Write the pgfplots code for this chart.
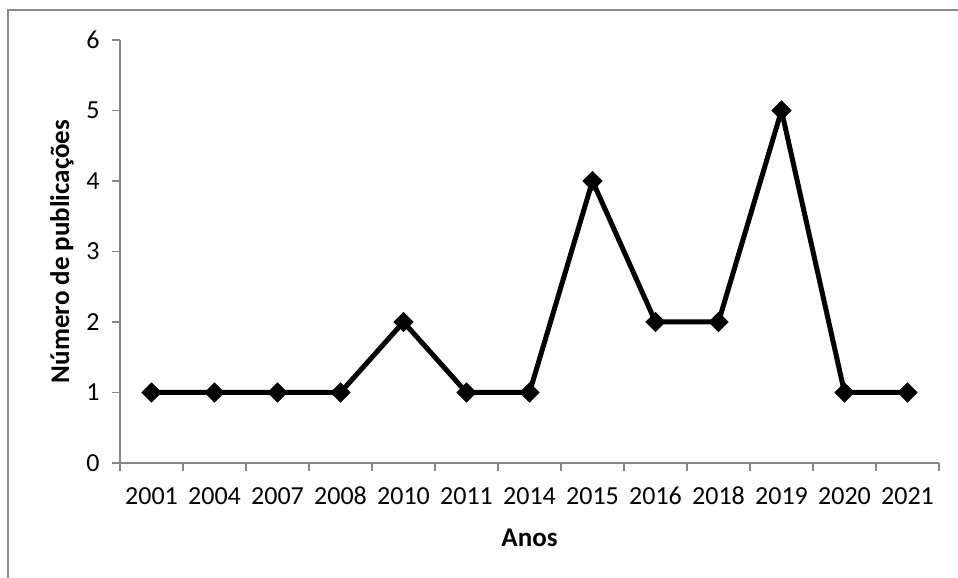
\documentclass[border=0pt]{standalone}
\usepackage{pgfplots}
\pgfplotsset{compat=1.18}
\usepackage{fontspec}
\setmainfont{Carlito}
\definecolor{axgray}{RGB}{134,134,134}
\definecolor{framegray}{RGB}{140,140,140}
\begin{document}
\begin{tikzpicture}[x=1pt,y=1pt]
\useasboundingbox (0,0) rectangle (958,578);
\draw[framegray, line width=2pt] (8,0) -- (8,568) -- (958,568);
\begin{axis}[
  at={(120pt,115pt)}, anchor=south west,
  scale only axis, width=819pt, height=423pt,
  xmin=-0.5, xmax=12.5, ymin=0, ymax=6,
  axis x line=bottom, axis y line=left,
  axis line style={-, axgray, line width=1.4pt},
  xtick={-0.5,0.5,1.5,2.5,3.5,4.5,5.5,6.5,7.5,8.5,9.5,10.5,11.5,12.5},
  x tick label as interval,
  xticklabels={2001,2004,2007,2008,2010,2011,2014,2015,2016,2018,2019,2020,2021},
  ytick={0,1,2,3,4,5,6},
  tick align=outside, major tick length=8pt,
  tick style={axgray, line width=1.4pt},
  /pgf/number format/assume math mode=true,
  ticklabel style={font=\fontsize{26}{30}\selectfont},
  yticklabel style={xshift=-9pt},
  xticklabel style={anchor=north, text height=17pt, text depth=0pt, yshift=-13pt},
  xlabel={Anos}, ylabel={Número de publicações},
  label style={font=\bfseries\fontsize{27}{32}\selectfont},
  xlabel style={at={(axis description cs:0.5,0)}, anchor=center, yshift=-75pt},
  ylabel style={at={(axis description cs:-0.0708,0.5)}, anchor=center},
  clip=false,
]
\addplot[black, line width=5pt, mark=square*, mark size=6.8pt,
  mark options={rotate=45, line width=0.8pt, fill=black, solid}]
  coordinates {(0,1) (1,1) (2,1) (3,1) (4,2) (5,1) (6,1) (7,4) (8,2) (9,2) (10,5) (11,1) (12,1)};
\end{axis}
\end{tikzpicture}
\end{document}
